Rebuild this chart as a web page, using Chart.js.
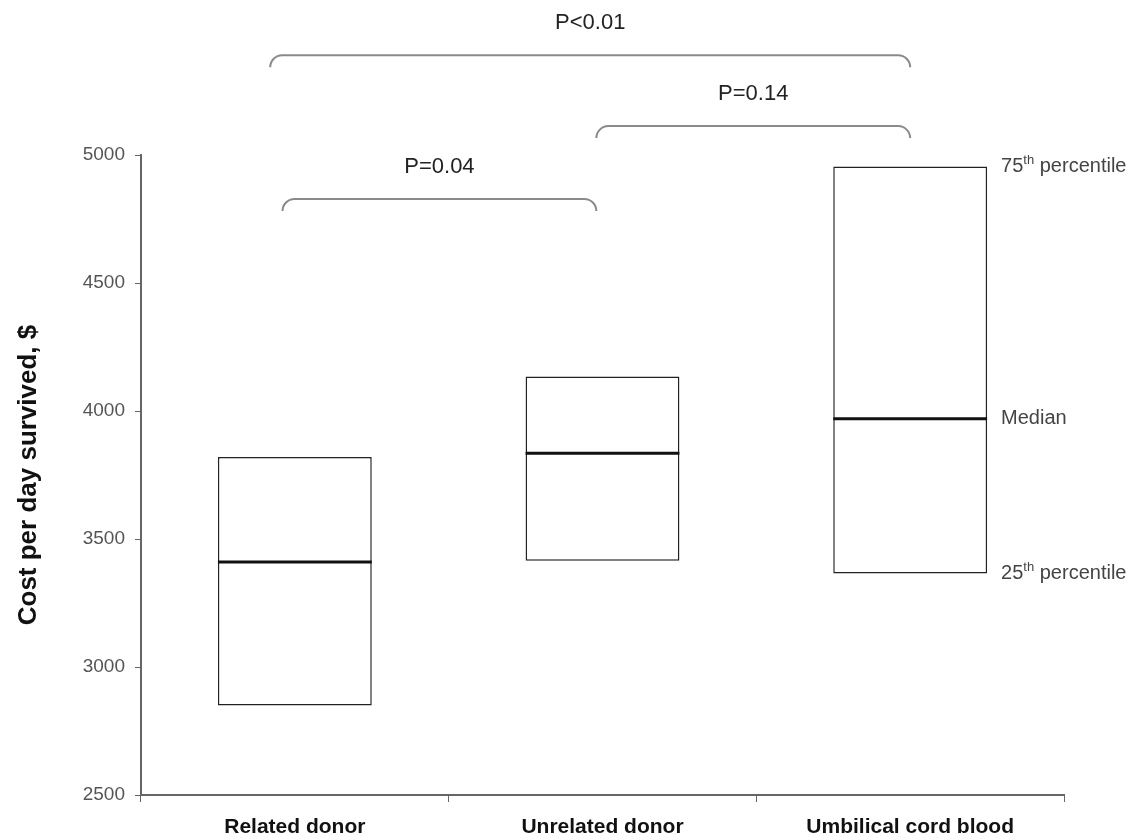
<!DOCTYPE html>
<html>
<head>
<meta charset="utf-8">
<script src="https://cdn.jsdelivr.net/npm/chart.js@4/dist/chart.umd.min.js"></script>
<style>
  html, body { margin: 0; padding: 0; background: #fff; }
  #wrap { width: 1141px; height: 840px; position: relative; }
</style>
</head>
<body>
<div id="wrap"><canvas id="chart"></canvas></div>
<script>
// ---- data ----
const groups = ['Related donor', 'Unrelated donor', 'Umbilical cord blood'];
const q1Values = [2850, 3415, 3365];
const medianValues = [3410, 3835, 3970];
const q3Values = [3820, 4135, 4955];
const yTicks = [2500, 3000, 3500, 4000, 4500, 5000];

// significance brackets: from/to are category positions, level in $
const pLabels = ['P<0.01', 'P=0.14', 'P=0.04'];
const bracketFrom = [-0.08, 0.98, -0.04];
const bracketTo = [2, 2, 0.98];
const bracketLevel = [5390, 5113, 4828];

const FONT = "'Liberation Sans', Arial, sans-serif";

// brackets, p-values and the percentile notes on the right
const annotations = {
    id: 'annotations',
    afterDraw(chart) {
        const { ctx, scales: { x, y } } = chart;
        ctx.save();
        ctx.strokeStyle = '#8a8a8a';
        ctx.lineWidth = 2;
        ctx.fillStyle = '#222';
        ctx.font = '22px ' + FONT;
        ctx.textAlign = 'center';
        ctx.textBaseline = 'middle';
        const r = 12;
        pLabels.forEach((lab, i) => {
            const x0 = x.getPixelForValue(bracketFrom[i]);
            const x1 = x.getPixelForValue(bracketTo[i]);
            const yy = y.getPixelForValue(bracketLevel[i]);
            ctx.beginPath();
            ctx.moveTo(x0, yy + r);
            ctx.arcTo(x0, yy, x0 + r, yy, r);
            ctx.lineTo(x1 - r, yy);
            ctx.arcTo(x1, yy, x1, yy + r, r);
            ctx.stroke();
            ctx.fillText(lab, (x0 + x1) / 2, yy - 32);
        });

        // labels beside the last box
        const last = groups.length - 1;
        const halfW = (x.width / groups.length) * 0.25;
        const tx = x.getPixelForValue(last) + halfW + 14;
        ctx.textAlign = 'left';
        ctx.fillStyle = '#444';
        const notes = [
            { num: '75', sup: 'th', rest: ' percentile', v: q3Values[last] },
            { num: 'Median', sup: '', rest: '', v: medianValues[last] },
            { num: '25', sup: 'th', rest: ' percentile', v: q1Values[last] }
        ];
        notes.forEach(n => {
            const ty = y.getPixelForValue(n.v);
            let cx = tx;
            ctx.font = '20px ' + FONT;
            ctx.fillText(n.num, cx, ty);
            cx += ctx.measureText(n.num).width;
            if (n.sup) {
                ctx.font = '13px ' + FONT;
                ctx.fillText(n.sup, cx, ty - 6);
                cx += ctx.measureText(n.sup).width;
                ctx.font = '20px ' + FONT;
                ctx.fillText(n.rest, cx, ty);
            }
        });
        ctx.restore();
    }
};

new Chart(document.getElementById('chart'), {
    type: 'bar',
    data: {
        labels: groups,
        datasets: [
            {
                type: 'line',
                label: 'Median',
                data: medianValues,
                showLine: false,
                pointStyle: 'line',
                pointRadius: (c) => (c.chart.scales.x.width / groups.length) * 0.25,
                borderColor: '#111',
                borderWidth: 3,
                order: 0
            },
            {
                label: 'Interquartile range',
                data: q1Values.map((v, i) => [v, q3Values[i]]),
                backgroundColor: '#fff',
                borderColor: '#222',
                borderWidth: 1.5,
                borderSkipped: false,
                barPercentage: 0.5,
                categoryPercentage: 1,
                order: 1
            }
        ]
    },
    options: {
        responsive: true,
        maintainAspectRatio: false,
        animation: false,
        layout: { padding: { top: 155, left: 8, right: 77, bottom: 0 } },
        plugins: {
            legend: { display: false },
            tooltip: { enabled: false }
        },
        scales: {
            x: {
                offset: true,
                grid: {
                    offset: true,
                    drawOnChartArea: false,
                    drawTicks: true,
                    tickLength: 7,
                    color: '#666',
                    lineWidth: 1
                },
                border: { display: true, color: '#666', width: 2 },
                ticks: {
                    color: '#111',
                    padding: 13,
                    font: { family: FONT, size: 21, weight: 'bold' }
                },
                afterFit: (s) => { s.height = 45; }
            },
            y: {
                min: 2500,
                max: 5000,
                afterBuildTicks: (s) => { s.ticks = yTicks.map(v => ({ value: v })); },
                grid: {
                    drawOnChartArea: false,
                    drawTicks: true,
                    tickLength: 6,
                    color: '#666'
                },
                border: { display: true, color: '#666', width: 2 },
                ticks: {
                    color: '#555',
                    padding: 10,
                    font: { family: FONT, size: 19 },
                    callback: (v) => String(v)
                },
                title: {
                    display: true,
                    text: 'Cost per day survived, $',
                    color: '#111',
                    padding: { top: 5, bottom: 0 },
                    font: { family: FONT, size: 26, weight: 'bold' }
                },
                afterFit: (s) => { s.width = 133; }
            }
        }
    },
    plugins: [annotations]
});
</script>
</body>
</html>
